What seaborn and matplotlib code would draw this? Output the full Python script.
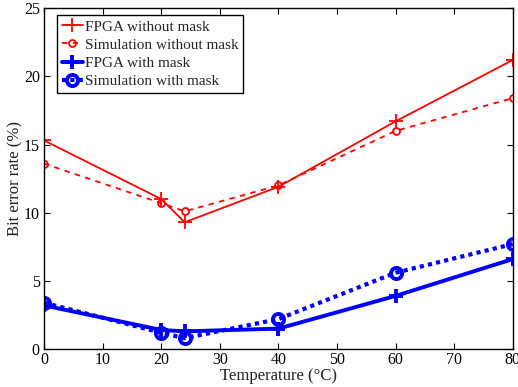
import numpy as np
import matplotlib
matplotlib.use("Agg")
import matplotlib.pyplot as plt
import seaborn as sns
import pandas as pd

# Temperature points (deg C)
temperature = [0, 20, 24, 40, 60, 80]

# Bit error rate (%) per series
fpga_without_mask = [15.3, 11.0, 9.3, 11.9, 16.7, 21.2]
sim_without_mask = [13.6, 10.7, 10.1, 12.0, 16.0, 18.4]
fpga_with_mask = [3.2, 1.4, 1.3, 1.5, 3.9, 6.6]
sim_with_mask = [3.4, 1.2, 0.8, 2.2, 5.6, 7.7]

series_names = ['FPGA without mask', 'Simulation without mask',
                'FPGA with mask', 'Simulation with mask']
series_values = [fpga_without_mask, sim_without_mask, fpga_with_mask, sim_with_mask]

df = pd.concat([pd.DataFrame({'Temperature': temperature, 'BER': vals, 'Series': name})
                for name, vals in zip(series_names, series_values)])

sns.set_style("ticks")
plt.rcParams['font.family'] = ['Liberation Serif', 'DejaVu Serif']

fig = plt.figure(figsize=(5.18, 3.87), dpi=100)
ax = fig.add_axes([0.085, 0.098, 0.905, 0.881])

# Styles for each series: colour, linestyle, marker, linewidth, marker size
styles = {
    'FPGA without mask': dict(color='#ff0000', ls='-', marker='+', lw=1.3, ms=10, mew=1.3),
    'Simulation without mask': dict(color='#ff0000', ls=(0, (3, 3)), marker='o', lw=1.3, ms=5, mew=1.3),
    'FPGA with mask': dict(color='#0000ff', ls='-', marker='+', lw=2.8, ms=10, mew=2.8),
    'Simulation with mask': dict(color='#0000ff', ls=(0, (1, 1)), marker='o', lw=3.0, ms=8, mew=2.8),
}

for name in series_names:
    st = styles[name]
    sub = df[df['Series'] == name]
    sns.lineplot(data=sub, x='Temperature', y='BER', ax=ax, label=name,
                 color=st['color'], linestyle=st['ls'], marker=st['marker'],
                 linewidth=st['lw'], markersize=st['ms'], markeredgewidth=st['mew'],
                 markerfacecolor='none', markeredgecolor=st['color'])

ax.set_xlim(0, 80)
ax.set_ylim(0, 25)
ax.set_xticks(np.arange(0, 81, 10))
ax.set_yticks(np.arange(0, 26, 5))
ax.tick_params(direction='in', top=True, right=True, labelsize=11.5, length=4, width=0.8,
               colors='black')
ax.tick_params(axis='x', pad=2)
ax.tick_params(axis='y', pad=3)
for sp in ax.spines.values():
    sp.set_visible(True)
    sp.set_linewidth(1.0)
    sp.set_color('black')

ax.set_xlabel('Temperature (°C)', fontsize=12, labelpad=0, color='#222222')
ax.set_ylabel('Bit error rate (%)', fontsize=12, labelpad=0, color='#222222')

leg = ax.legend(loc='upper left', bbox_to_anchor=(0.028, 0.979), fontsize=11, frameon=True,
                fancybox=False, edgecolor='black', framealpha=1, handlelength=1.4,
                handletextpad=0.1, borderpad=0.3, labelspacing=0.3, borderaxespad=0)
leg.get_frame().set_linewidth(1.0)

fig.savefig('out.png', dpi=100)
